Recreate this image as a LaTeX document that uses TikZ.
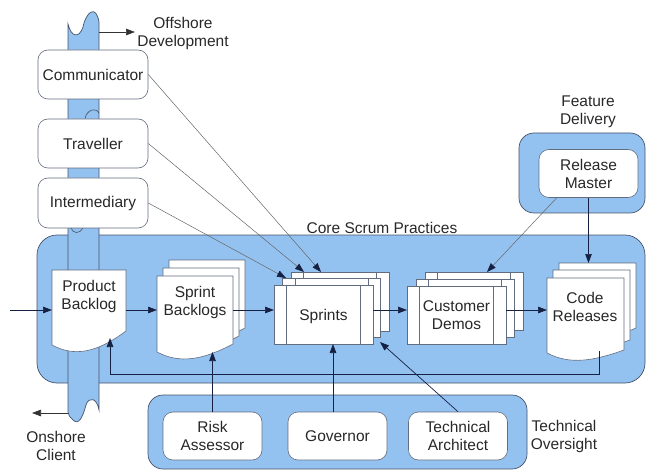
\documentclass[tikz,border=0pt]{standalone}
\usepackage{fontspec}
\setmainfont{Liberation Sans}
\usetikzlibrary{arrows.meta,calc}
\definecolor{bluefill}{RGB}{148,194,240}
\definecolor{edgec}{RGB}{70,82,104}
\definecolor{txt}{RGB}{40,40,40}
\definecolor{tipc}{RGB}{22,32,66}
\tikzset{
  blk/.style={draw=edgec, fill=bluefill, line width=0.7pt},
  docst/.style={draw=edgec!85, fill=white, line width=0.6pt},
  wbox/.style={draw=edgec!85, fill=white, line width=0.6pt, rounded corners=10pt,
     text=txt, align=center, font=\fontsize{15.5}{18}\selectfont,
     minimum width=99pt, minimum height=48pt, inner sep=1pt},
  lbl/.style={text=txt, align=center, font=\fontsize{15.5}{18}\selectfont, inner sep=0pt},
  arr/.style={draw=tipc, line width=0.7pt, -{Triangle[length=9pt,width=6.5pt]}},
  garr/.style={draw=black!60, line width=0.5pt, -{Triangle[length=9pt,width=6.5pt,color=tipc]}},
}
\newcommand\DocShp[5]{\draw[docst] (#1,#2) -- (#3,#2) -- (#3,{#4-#5}) .. controls ({#1+0.6*(#3-#1)},{#4+8}) and ({#1+0.3*(#3-#1)},{#4+12}) .. (#1,#4) -- cycle;}
\newcommand\ProcShp[4]{\draw[docst] (#1,#2) rectangle ({#1+#3},{#2+#4});
  \draw[docst] ({#1+12.5},#2) -- ({#1+12.5},{#2+#4}) ({#1+#3-12.5},#2) -- ({#1+#3-12.5},{#2+#4});}
\begin{document}
\begin{tikzpicture}[x=1pt,y=-1pt]
\useasboundingbox (0,0) rectangle (647,470);

% group boxes
\draw[blk, rounded corners=20pt] (37,235) rectangle (645,383);
\draw[blk, rounded corners=15pt] (519,133) rectangle (645,213);
\draw[blk, rounded corners=15pt] (148,395) rectangle (527,469);

% communication channel (pipe)
\draw[blk] (68,24) .. controls (71,37) and (79,39) .. (83,27) .. controls (86,12) and (96,4) .. (99,22)
  -- (99,410) .. controls (97,398) and (89,396) .. (86,405) .. controls (83,416) and (79,426) .. (73,420)
  .. controls (70,417) and (68,415) .. (68,412) -- cycle;
\draw[edgec, line width=0.6pt] (85,119) .. controls (86,110) and (96,107) .. (99,113);
\draw[edgec, line width=0.6pt] (71,228) .. controls (73,234) and (80,234) .. (83,228);

% labels
\node[lbl] (offlbl) at (183,33) {Offshore\\Development};
\node[lbl] (onlbl) at (56,446) {Onshore\\Client};
\node[lbl] (corelbl) at (382,228) {Core Scrum Practices};
\node[lbl] (featlbl) at (588,112) {Feature\\Delivery};
\node[lbl] (techlbl) at (564,436) {Technical\\Oversight};

% product backlog
\DocShp{52}{270}{126}{345}{14}
\node[lbl] (pb) at (89,296) {Product\\Backlog};

% sprint backlogs
\DocShp{169}{260}{245}{336}{8}
\DocShp{163}{268}{239}{344}{8}
\DocShp{157}{276}{233}{352}{8}
\node[lbl] (sb) at (195,302) {Sprint\\Backlogs};

% sprints
\ProcShp{291}{272}{98}{59}
\ProcShp{282.5}{278.5}{98}{59}
\ProcShp{274}{285}{99}{59}
\node[lbl] (sp) at (323.5,316) {Sprints};

% customer demos
\ProcShp{425}{272}{98}{58}
\ProcShp{416}{279}{98}{58}
\ProcShp{407}{286}{99}{58}
\node[lbl] (cd) at (456.5,315) {Customer\\Demos};

% code releases
\DocShp{559}{263}{636}{333}{5}
\DocShp{553}{270}{630}{343}{3}
\DocShp{547}{278}{624}{353}{3}
\node[lbl] (cr) at (585,307) {Code\\Releases};

% role boxes
\node[wbox, minimum width=110pt, minimum height=49pt] (comm) at (93,74.5) {Communicator};
\node[wbox, minimum width=110pt, minimum height=49pt] (trav) at (93,143.5) {Traveller};
\node[wbox, minimum width=110pt, minimum height=50pt] (inter) at (93,203) {Intermediary};
\node[wbox] (rm) at (588.5,173.5) {Release\\Master};
\node[wbox] (risk) at (212.5,436) {Risk\\Assessor};
\node[wbox] (gov) at (337.5,436) {Governor};
\node[wbox] (ta) at (458,436) {Technical\\Architect};

% connection points
\coordinate (inL) at (10,310);
\coordinate (pbW) at (52,310);
\coordinate (pbE) at (126,310);
\coordinate (pbS) at (110,338);
\coordinate (sbW) at (157,310);
\coordinate (sbE) at (233,310);
\coordinate (sbS) at (212.5,352);
\coordinate (spW) at (274,310);
\coordinate (spE) at (373,310);
\coordinate (spS) at (333,344);
\coordinate (spBR) at (380,342);
\coordinate (spT1) at (286,278);
\coordinate (spT2) at (304,272);
\coordinate (spT3) at (321,272);
\coordinate (cdW) at (407,310);
\coordinate (cdE) at (506,310);
\coordinate (cdN) at (487,272);
\coordinate (crW) at (547,310);
\coordinate (crN) at (588.5,263);
\coordinate (crS) at (599,351);
\coordinate (loopL) at (110,374);
\coordinate (pipeTR) at (99,32);
\coordinate (offT) at (135,32);
\coordinate (pipeBL) at (68,413);
\coordinate (onT) at (32,413);

% connectors
\draw[arr] (inL) -- (pbW);
\draw[arr] (pbE) -- (sbW);
\draw[arr] (sbE) -- (spW);
\draw[arr] (spE) -- (cdW);
\draw[arr] (cdE) -- (crW);
\draw[arr] (crS) |- (loopL) -- (pbS);
\draw[arr] (risk.north) -- (sbS);
\draw[arr] ($(gov.north)+(-4.5,0)$) -- (spS);
\draw[arr] (ta.north) -- (spBR);
\draw[arr] (rm.south) -- (crN);
\draw[garr] ($(rm.south west)+(18,0)$) -- (cdN);
\draw[garr] (comm.east) -- (spT3);
\draw[garr] (trav.east) -- (spT2);
\draw[garr] (inter.east) -- (spT1);
\draw[arr, draw=black!80] (pipeTR) -- (offT);
\draw[arr, draw=black!80] (pipeBL) -- (onT);
\end{tikzpicture}
\end{document}
